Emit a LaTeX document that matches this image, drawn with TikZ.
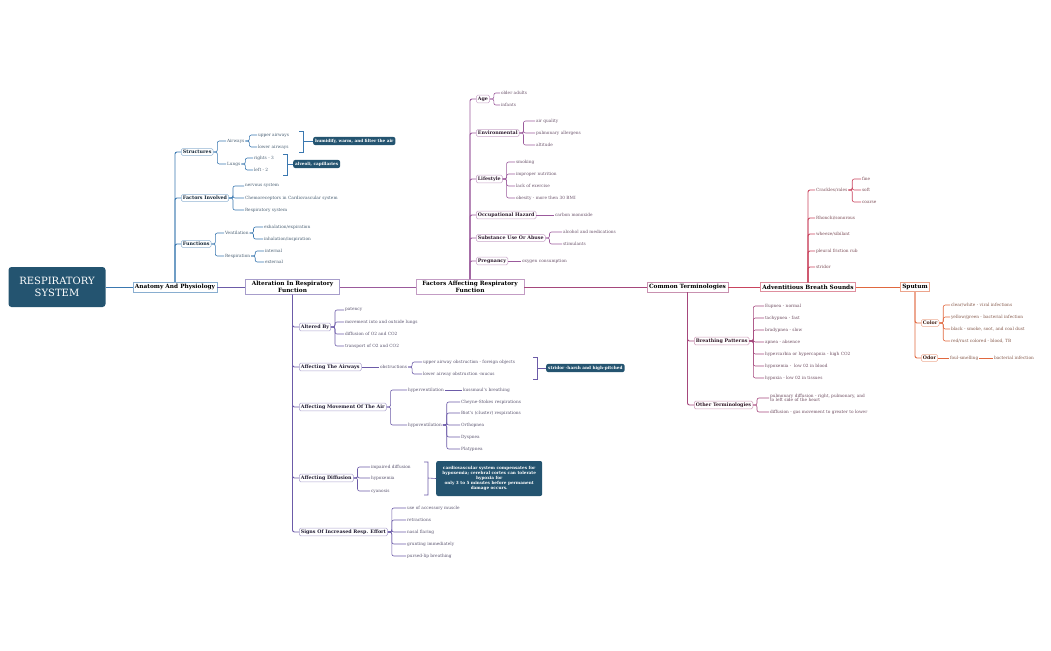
\documentclass[tikz,border=0pt]{standalone}
\usepackage{fontspec}
\setmainfont{DejaVu Serif}
\begin{document}
\definecolor{cA}{HTML}{3A78B0}\definecolor{cB}{HTML}{6C5BA8}\definecolor{cC}{HTML}{9B5A9C}
\definecolor{cD}{HTML}{A5477C}\definecolor{cE}{HTML}{C9445E}\definecolor{cF}{HTML}{E0683F}
\definecolor{rootc}{HTML}{245470}
\tikzset{
 leaf/.style={anchor=west,inner sep=0.8pt,font=\fontsize{4.3}{5}\selectfont},
 sbox/.style={anchor=west,draw,rounded corners=1.5pt,fill=white,inner sep=1.6pt,line width=0.5pt,font=\fontsize{4.8}{5.5}\selectfont\bfseries},
 mbox/.style={draw,fill=white,inner sep=2pt,line width=0.6pt,font=\fontsize{5.8}{6.8}\selectfont\bfseries,align=center},
 conn/.style={line width=0.6pt,rounded corners=2pt},
 trunk/.style={line width=1pt},
 call/.style={anchor=west,fill=rootc,text=white,rounded corners=2pt,inner sep=2pt,font=\fontsize{4.2}{5}\selectfont\bfseries,align=center},
 brk/.style={line width=0.6pt}
}
\newcommand\mmleaf[6]{\node[leaf,text=#6!45!black!80] (#1) at (#2,#3) {#4};
 \draw[conn,#6] (#5.east) -- ++(4,0) |- (#1.west);}
\newcommand\mmbox[6]{\node[sbox,draw=#6!55,text=#6!30!black] (#1) at (#2,#3) {#4};
 \draw[conn,#6,line width=0.9pt] (#5) |- (#1.west);}
\begin{tikzpicture}[x=1pt,y=-1pt]
\useasboundingbox (0,0) rectangle (1051,650);
% main nodes
\node[fill=rootc,text=white,rounded corners=3pt,minimum width=97pt,minimum height=40pt,align=center,font=\fontsize{10}{11.5}\selectfont] (root) at (57,287) {RESPIRATORY\\SYSTEM};
\node[mbox,draw=cA!60] (anat) at (175,287) {Anatomy And Physiology};
\node[mbox,draw=cB!60,text width=90pt] (alt) at (292.5,287) {Alteration In Respiratory\\Function};
\node[mbox,draw=cC!60,text width=104pt] (fact) at (470,287) {Factors Affecting Respiratory\\Function};
\node[mbox,draw=cD!60] (com) at (687.5,287) {Common Terminologies};
\node[mbox,draw=cE!60] (adv) at (808,287) {Adventitious Breath Sounds};
\node[mbox,draw=cF!60] (sput) at (915,287) {Sputum};
\draw[trunk,cA] (root) -- (anat);
\draw[trunk,cB] (anat) -- (alt);
\draw[trunk,cC] (alt) -- (fact);
\draw[trunk,cD] (fact) -- (com);
\draw[trunk,cE] (com) -- (adv);
\draw[trunk,cF] (adv) -- (sput);
% Anatomy
\mmbox{str}{181}{152}{Structures}{anat.north}{cA}
\mmbox{fin}{181}{198}{Factors Involved}{anat.north}{cA}
\mmbox{fun}{181}{244}{Functions}{anat.north}{cA}
\mmleaf{air}{226}{141}{Airways}{str}{cA}
\mmleaf{lun}{226}{164}{Lungs}{str}{cA}
\mmleaf{up}{257}{135}{upper airways}{air}{cA}
\mmleaf{lo}{257}{147}{lower airways}{air}{cA}
\mmleaf{ri}{253}{158}{rights - 3}{lun}{cA}
\mmleaf{le}{253}{170}{left - 2}{lun}{cA}
\mmleaf{ns}{244}{186}{nervous system}{fin}{cA}
\mmleaf{ch}{244}{198}{Chemoreceptors in Cardiovascular system}{fin}{cA}
\mmleaf{rs}{244}{210}{Respiratory system}{fin}{cA}
\mmleaf{ven}{224}{233}{Ventilation}{fun}{cA}
\mmleaf{res}{224}{256}{Respiration}{fun}{cA}
\mmleaf{exh}{263}{227}{exhalation/expiration}{ven}{cA}
\mmleaf{inh}{263}{239}{inhalation/inspiration}{ven}{cA}
\mmleaf{int}{264}{251}{internal}{res}{cA}
\mmleaf{ext}{264}{262}{external}{res}{cA}
\node[call] (c1) at (313,141) {humidify, warm, and filter the air};
\draw[brk,cA] (299,131) -- (303,131) -- (303,152) -- (299,152) (303,141) -- (c1.west);
\node[call] (c2) at (293,164) {alveoli, capillaries};
\draw[brk,cA] (283,154) -- (287,154) -- (287,175) -- (283,175) (287,164) -- (c2.west);
% Alteration
\mmbox{ab}{299}{327}{Altered By}{alt.south}{cB}
\mmbox{aa}{299}{367}{Affecting The Airways}{alt.south}{cB}
\mmbox{am}{299}{407}{Affecting Movement Of The Air}{alt.south}{cB}
\mmbox{ad}{299}{478}{Affecting Diffusion}{alt.south}{cB}
\mmbox{si}{299}{532}{Signs Of Increased Resp. Effort}{alt.south}{cB}
\mmleaf{pa}{344}{310}{patency}{ab}{cB}
\mmleaf{mo}{344}{322}{movement into and outside lungs}{ab}{cB}
\mmleaf{di}{344}{334}{diffusion of O2 and CO2}{ab}{cB}
\mmleaf{tr}{344}{346}{transport of O2 and CO2}{ab}{cB}
\node[leaf,text=cB!45!black!80] (ob) at (379,367) {obstructions};
\draw[conn,cB] (aa.east) -- (ob.west);
\mmleaf{uo}{422}{362}{upper airway obstruction - foreign objects}{ob}{cB}
\mmleaf{lw}{422}{374}{lower airway obstruction -mucus}{ob}{cB}
\node[call] (c3) at (546,368) {stridor -harsh and high-pitched};
\draw[brk,cB] (533,357) -- (537,357) -- (537,379) -- (533,379) (537,368) -- (c3.west);
\mmleaf{hyv}{407}{390}{hyperventilation}{am}{cB}
\mmleaf{hpv}{407}{425}{hypoventilation}{am}{cB}
\node[leaf,text=cB!45!black!80] (ku) at (462,390) {kussmaul's breathing};
\draw[conn,cB] (hyv.east) -- (ku.west);
\mmleaf{cs}{460}{402}{Cheyne-Stokes respirations}{hpv}{cB}
\mmleaf{bi}{460}{413}{Biot's (cluster) respirations}{hpv}{cB}
\mmleaf{or}{460}{425}{Orthopnea}{hpv}{cB}
\mmleaf{dy}{460}{437}{Dyspnea}{hpv}{cB}
\mmleaf{pl}{460}{449}{Platypnea}{hpv}{cB}
\mmleaf{im}{370}{467}{impaired diffusion}{ad}{cB}
\mmleaf{hx}{370}{478}{hypoxemia}{ad}{cB}
\mmleaf{cy}{370}{491}{cyanosis}{ad}{cB}
\node[call,minimum width=106pt,minimum height=35pt] (c4) at (436,478.5) {cardiovascular system compensates for\\hypoxemia; cerebral cortex can tolerate\\hypoxia for\\only 3 to 5 minutes before permanent\\damage occurs.};
\draw[brk,cB] (424,462) -- (428,462) -- (428,495) -- (424,495) (428,478) -- (c4.west);
\mmleaf{ua}{406}{508}{use of accessory muscle}{si}{cB}
\mmleaf{re}{406}{520}{retractions}{si}{cB}
\mmleaf{na}{406}{532}{nasal flaring}{si}{cB}
\mmleaf{gr}{406}{544}{grunting immediately}{si}{cB}
\mmleaf{pu}{406}{556}{pursed-lip breathing}{si}{cB}
% Factors
\mmbox{age}{476}{99}{Age}{fact.north}{cC}
\mmbox{env}{476}{133}{Environmental}{fact.north}{cC}
\mmbox{lif}{476}{179}{Lifestyle}{fact.north}{cC}
\mmbox{occ}{476}{215}{Occupational Hazard}{fact.north}{cC}
\mmbox{sub}{476}{238}{Substance Use Or Abuse}{fact.north}{cC}
\mmbox{pre}{476}{261}{Pregnancy}{fact.north}{cC}
\mmleaf{oa}{500}{93}{older adults}{age}{cC}
\mmleaf{inf}{500}{105}{infants}{age}{cC}
\mmleaf{aq}{535}{121}{air quality}{env}{cC}
\mmleaf{pal}{535}{133}{pulmonary allergens}{env}{cC}
\mmleaf{alti}{535}{145}{altitude}{env}{cC}
\mmleaf{smo}{515}{162}{smoking}{lif}{cC}
\mmleaf{imp}{515}{174}{improper nutrition}{lif}{cC}
\mmleaf{lac}{515}{186}{lack of exercise}{lif}{cC}
\mmleaf{obe}{515}{198}{obesity - more then 30 BMI}{lif}{cC}
\node[leaf,text=cC!45!black!80] (cm) at (554,215) {carbon monoxide};
\draw[conn,cC] (occ.east) -- (cm.west);
\mmleaf{alc}{562}{232}{alcohol and medications}{sub}{cC}
\mmleaf{sti}{562}{244}{stimulants}{sub}{cC}
\node[leaf,text=cC!45!black!80] (oxc) at (521,261) {oxygen consumption};
\draw[conn,cC] (pre.east) -- (oxc.west);
% Common
\mmbox{bp}{694}{341}{Breathing Patterns}{com.south}{cD}
\mmbox{ot}{694}{405}{Other Terminologies}{com.south}{cD}
\mmleaf{eu}{764}{306}{Eupnea - normal}{bp}{cD}
\mmleaf{ta}{764}{318}{tachypnea - fast}{bp}{cD}
\mmleaf{br}{764}{330}{bradypnea - slow}{bp}{cD}
\mmleaf{ap}{764}{342}{apnea - absence}{bp}{cD}
\mmleaf{hc}{764}{354}{hypercarbia or hypercapnia - high CO2}{bp}{cD}
\mmleaf{hxe}{764}{366}{hypoxemia -\ \ low 02 in blood}{bp}{cD}
\mmleaf{hxi}{764}{378}{hypoxia - low 02 in tissues}{bp}{cD}
\node[leaf,align=left,text=cD!45!black!80,font=\fontsize{4.3}{4.6}\selectfont] (pd) at (769,398) {pulmonary diffusion - right, pulmonary, and\\to left side of the heart};
\draw[conn,cD] (ot.east) -- ++(4,0) |- (pd.west);
\mmleaf{dg}{769}{412}{diffusion - gas movement to greater to lower}{ot}{cD}
% Adventitious
\node[leaf,text=cE!45!black!80] (cr) at (815,190) {Crackles/rales};
\node[leaf,text=cE!45!black!80] (rh) at (815,218) {Rhonchi/sonorous};
\node[leaf,text=cE!45!black!80] (wh) at (815,234) {wheeze/sibilant};
\node[leaf,text=cE!45!black!80] (pf) at (815,251) {pleural friction rub};
\node[leaf,text=cE!45!black!80] (sd) at (815,267) {stridor};
\foreach \n in {cr,rh,wh,pf,sd} \draw[conn,cE,line width=0.9pt] (adv.north) |- (\n.west);
\mmleaf{fi}{861}{179}{fine}{cr}{cE}
\mmleaf{so}{861}{190}{soft}{cr}{cE}
\mmleaf{co}{861}{202}{coarse}{cr}{cE}
% Sputum
\mmbox{col}{921}{323}{Color}{sput.south}{cF}
\mmbox{odo}{921}{358}{Odor}{sput.south}{cF}
\mmleaf{cw}{950}{305}{clear/white - viral infections}{col}{cF}
\mmleaf{yg}{950}{317}{yellow/green - bacterial infection}{col}{cF}
\mmleaf{bl}{950}{329}{black - smoke, soot, and coal dust}{col}{cF}
\mmleaf{rr}{950}{341}{red/rust colored - blood, TB}{col}{cF}
\node[leaf,text=cF!45!black!80] (fs) at (949,358) {foul-smelling};
\draw[conn,cF] (odo.east) -- (fs.west);
\node[leaf,text=cF!45!black!80] (bi2) at (993,358) {bacterial infection};
\draw[conn,cF] (fs.east) -- (bi2.west);
\end{tikzpicture}
\end{document}
